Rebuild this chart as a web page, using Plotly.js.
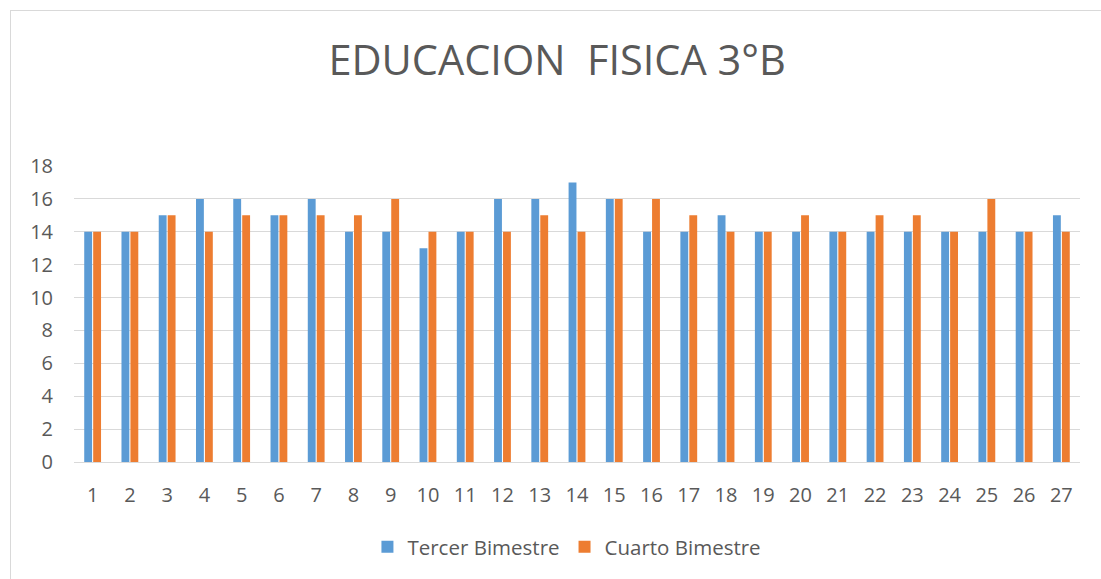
<!DOCTYPE html>
<html>
<head>
<meta charset="utf-8">
<script src="https://cdn.plot.ly/plotly-3.0.1.min.js"></script>
<style>
html,body{margin:0;padding:0;background:#fff;}
#wrap{position:relative;width:1101px;height:579px;overflow:hidden;}
#frame{position:absolute;left:10px;top:10px;width:1100px;height:600px;border:1px solid #d9d9d9;box-sizing:border-box;pointer-events:none;}
#chart{position:absolute;left:0;top:0;width:1101px;height:579px;}
</style>
</head>
<body>
<div id="wrap">
<div id="chart"></div>
<div id="frame"></div>
</div>
<script>
const categories = ["1","2","3","4","5","6","7","8","9","10","11","12","13","14","15","16","17","18","19","20","21","22","23","24","25","26","27"];
const tercerBimestre = [14,14,15,16,16,15,16,14,14,13,14,16,16,17,16,14,14,15,14,14,14,14,14,14,14,14,15];
const cuartoBimestre = [14,14,15,14,15,15,15,15,16,14,14,14,15,14,16,16,15,14,14,15,14,15,15,14,16,14,14];
const yTicks = [0,2,4,6,8,10,12,14,16,18];

const font = "Open Sans, Liberation Sans, sans-serif";
const traces = [
  {type:'bar', name:'Tercer Bimestre', x:categories, y:tercerBimestre, marker:{color:'#5b9bd5'}},
  {type:'bar', name:'Cuarto Bimestre', x:categories, y:cuartoBimestre, marker:{color:'#ed7d31'}}
];
const layout = {
  width:1101, height:579,
  margin:{l:74, r:21, t:166, b:117},
  paper_bgcolor:'rgba(0,0,0,0)', plot_bgcolor:'#fff',
  barmode:'group', bargap:0.52, bargroupgap:0.12,
  showlegend:true,
  title:{text:'EDUCACION  FISICA 3°B', x:0.506, xanchor:'center', y:0.896, yanchor:'middle',
         font:{family:font, size:41.5, color:'#595959'}},
  xaxis:{type:'category', tickvals:categories, ticktext:categories, showgrid:false, zeroline:false,
         showline:false, ticks:'', tickfont:{family:font, size:20, color:'#595959'}, ticklabelstandoff:19, automargin:false},
  yaxis:{range:[0,18], tickvals:yTicks, ticktext:yTicks.map(String), showgrid:true, gridcolor:'#d9d9d9', gridwidth:1,
         zeroline:true, zerolinecolor:'#d9d9d9', zerolinewidth:1, showline:false, ticks:'',
         tickfont:{family:font, size:20, color:'#595959'}, ticklabelstandoff:20, automargin:false},
  legend:{orientation:'h', x:0.49, xanchor:'center', y:-0.287, yanchor:'middle',
          font:{family:font, size:20.5, color:'#595959'}, itemwidth:30, traceorder:'normal'}
};
Plotly.newPlot('chart', traces, layout, {displayModeBar:false, staticPlot:true});
</script>
</body>
</html>
